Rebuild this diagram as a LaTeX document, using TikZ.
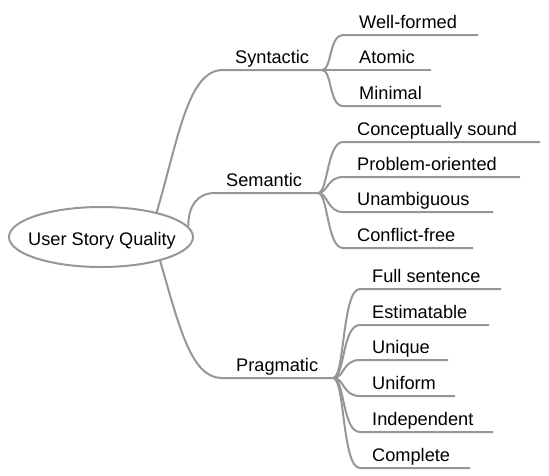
\documentclass[tikz,border=0pt]{standalone}
\usepackage{fontspec}
\setmainfont{Liberation Sans}
\usetikzlibrary{shapes.geometric}
\definecolor{branch}{RGB}{150,150,150}
\begin{document}
\begin{tikzpicture}[x=1pt,y=-1pt,
  br/.style={draw=branch,line width=2pt},
  lbl/.style={anchor=base west,inner sep=0pt,font=\fontsize{18.2}{22}\selectfont}]
\useasboundingbox (0,0) rectangle (549,475);
% root
\node[ellipse,draw=branch,line width=2pt,minimum width=184pt,minimum height=60pt,inner sep=0pt] (root) at (101,237) {};
\node[anchor=base,inner sep=0pt,font=\fontsize{18.2}{22}\selectfont] (rootlbl) at (102,245.5) {User Story Quality};
% main branches
\coordinate (synS) at (223,70);  \coordinate (synJ) at (322,70);
\coordinate (semS) at (215,193); \coordinate (semJ) at (318,193);
\coordinate (praS) at (222,378); \coordinate (praJ) at (333,378);
\node[lbl] (syn) at (235,63) {Syntactic};
\node[lbl] (sem) at (226,186) {Semantic};
\node[lbl] (pra) at (236,371) {Pragmatic};
\draw[br] (root.24) .. controls +(22,-75) and +(-35,0) .. (synS) -- (synJ);
\draw[br] (root.7) .. controls +(0,-20) and +(-18,0) .. (semS) -- (semJ);
\draw[br] (root.-22) .. controls +(20,70) and +(-30,0) .. (praS) -- (praJ);
% syntactic children
\foreach \n/\t/\y/\e in {wf/Well-formed/35/478, at/Atomic/70/431, mi/Minimal/106/441}{
  \coordinate (\n-s) at (343,\y); \coordinate (\n-e) at (\e,\y);
  \node[lbl] (\n) at (359,\y-7) {\t};
  \draw[br] (synJ) .. controls +(10,0) and +(-14,0) .. (\n-s) -- (\n-e);
}
% semantic children
\foreach \n/\t/\y/\e in {cs/Conceptually sound/142/540, po/Problem-oriented/177/520, un/Unambiguous/212/493, cf/Conflict-free/248/473}{
  \coordinate (\n-s) at (343,\y); \coordinate (\n-e) at (\e,\y);
  \node[lbl] (\n) at (357,\y-7) {\t};
  \draw[br] (semJ) .. controls +(10,0) and +(-16,0) .. (\n-s) -- (\n-e);
}
% pragmatic children
\foreach \n/\t/\y/\e in {fs/Full sentence/289/501, es/Estimatable/325/489, uq/Unique/360/448, uf/Uniform/396/455, ind/Independent/432/493, co/Complete/468/470}{
  \coordinate (\n-s) at (360,\y); \coordinate (\n-e) at (\e,\y);
  \node[lbl] (\n) at (372,\y-7) {\t};
  \draw[br] (praJ) .. controls +(12,0) and +(-18,0) .. (\n-s) -- (\n-e);
}
\end{tikzpicture}
\end{document}
